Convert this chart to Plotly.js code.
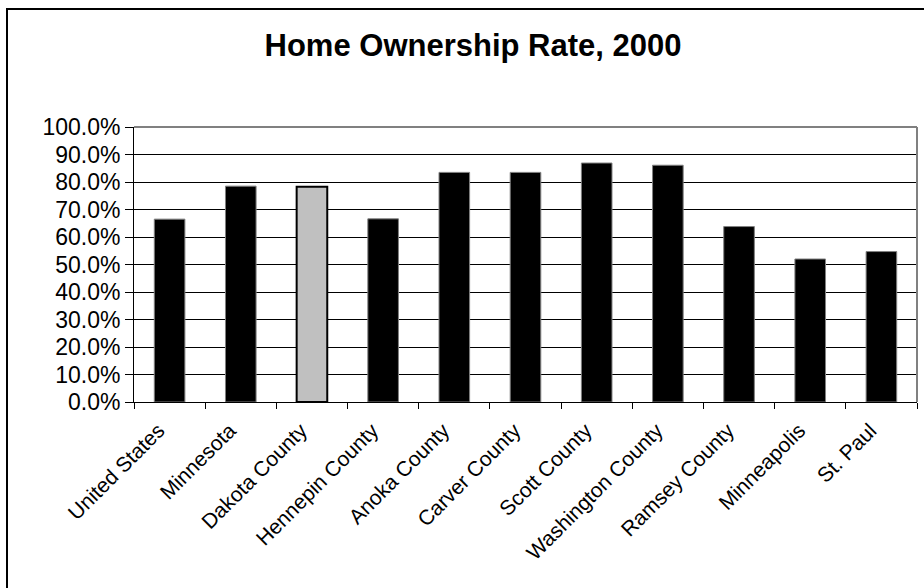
<!DOCTYPE html>
<html>
<head>
<meta charset="utf-8">
<script src="https://cdn.plot.ly/plotly-3.0.1.min.js"></script>
<style>
  html, body { margin: 0; padding: 0; background: #fff; }
  #wrap { position: relative; width: 924px; height: 588px; overflow: hidden; }
  #chart { width: 924px; height: 588px; }
  #frame { position: absolute; left: 6px; top: 8px; width: 1000px; height: 700px;
           border-left: 2px solid #000; border-top: 2px solid #000; pointer-events: none; }
</style>
</head>
<body>
<div id="wrap">
  <div id="chart"></div>
  <div id="frame"></div>
</div>
<script>
const categories = ["United States", "Minnesota", "Dakota County", "Hennepin County", "Anoka County",
  "Carver County", "Scott County", "Washington County", "Ramsey County", "Minneapolis", "St. Paul"];
const ownershipRate = [0.665, 0.785, 0.783, 0.666, 0.835, 0.835, 0.869, 0.861, 0.638, 0.520, 0.547];
const highlighted = "Dakota County";
const yTickValues = [0, 0.1, 0.2, 0.3, 0.4, 0.5, 0.6, 0.7, 0.8, 0.9, 1.0];
const chartTitle = "Home Ownership Rate, 2000";

const fillColors = categories.map(c => c === highlighted ? "#C0C0C0" : "#000000");
const lineColors = categories.map(c => c === highlighted ? "#000000" : "#808080");
const lineWidths = categories.map(c => c === highlighted ? 2 : 1);

const FONT = "Liberation Sans, Arial, Helvetica, sans-serif";

const trace = {
  type: "bar",
  x: categories,
  y: ownershipRate,
  marker: { color: fillColors, line: { color: lineColors, width: lineWidths } },
  hoverinfo: "x+y"
};

const layout = {
  width: 924, height: 588,
  margin: { l: 134, r: 7, t: 127, b: 186, pad: 0 },
  paper_bgcolor: "#ffffff",
  plot_bgcolor: "#ffffff",
  bargap: 0.57,
  showlegend: false,
  title: {
    text: "<b>" + chartTitle + "</b>",
    font: { family: FONT, size: 31, color: "#000" },
    xref: "container", yref: "container",
    x: 473 / 924, xanchor: "center",
    y: 1 - 45 / 588, yanchor: "middle"
  },
  xaxis: {
    type: "category",
    tickangle: -45,
    tickfont: { family: FONT, size: 21, color: "#000" },
    ticks: "outside", tickson: "boundaries", ticklen: 6, tickcolor: "#000", tickwidth: 1,
    ticklabelshift: -11, ticklabelstandoff: 7,
    showline: true, linecolor: "#000", linewidth: 1,
    showgrid: false, zeroline: false,
    mirror: false
  },
  yaxis: {
    range: [0, 1],
    tickvals: yTickValues,
    tickformat: ".1%",
    tickfont: { family: FONT, size: 23, color: "#000" },
    ticks: "outside", ticklen: 8, tickcolor: "#000", tickwidth: 1,
    showline: true, linecolor: "#000", linewidth: 1,
    showgrid: true, gridcolor: "#000", gridwidth: 1,
    zeroline: false
  },
  shapes: [
    { type: "line", xref: "paper", yref: "paper", x0: 0, x1: 1, y0: 1, y1: 1,
      line: { color: "#808080", width: 2 } },
    { type: "line", xref: "paper", yref: "paper", x0: 1, x1: 1, y0: 0, y1: 1,
      line: { color: "#808080", width: 2 } }
  ]
};

Plotly.newPlot("chart", [trace], layout, { displayModeBar: false, staticPlot: true });
</script>
</body>
</html>
